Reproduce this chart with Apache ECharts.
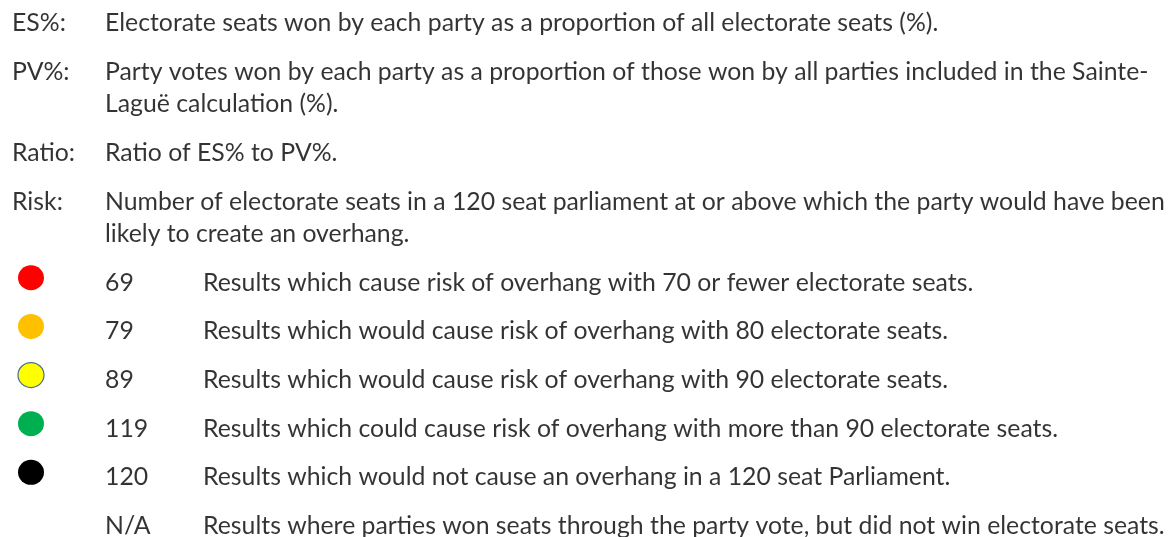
<!DOCTYPE html>
<html>
<head>
<meta charset="utf-8">
<script src="https://cdn.jsdelivr.net/npm/echarts@6/dist/echarts.min.js"></script>
<style>
  html, body { margin: 0; padding: 0; background: #fff; }
  #chart { width: 1168px; height: 537px; }
</style>
</head>
<body>
<div id="chart"></div>
<script>
// definitions (a '\n' marks where the original wraps)
const termNames = ['ES%:', 'PV%:', 'Ratio:', 'Risk:']
const termTexts = [
  'Electorate seats won by each party as a proportion of all electorate seats (%).',
  'Party votes won by each party as a proportion of those won by all parties included in the Sainte-\nLaguë calculation (%).',
  'Ratio of ES% to PV%.',
  'Number of electorate seats in a 120 seat parliament at or above which the party would have been\nlikely to create an overhang.'
]

// risk key
const riskValues = ['69', '79', '89', '119', '120', 'N/A']
const riskColors = ['#ff0000', '#ffc000', '#ffff00', '#00b050', '#000000', null]
const riskTexts = [
  'Results which cause risk of overhang with 70 or fewer electorate seats.',
  'Results which would cause risk of overhang with 80 electorate seats.',
  'Results which would cause risk of overhang with 90 electorate seats.',
  'Results which could cause risk of overhang with more than 90 electorate seats.',
  'Results which would not cause an overhang in a 120 seat Parliament.',
  'Results where parties won seats through the party vote, but did not win electorate seats.'
]

const PARA = 1        // one paragraph step
const WRAP = 0.67     // a wrapped line inside a paragraph

const FONT = 'Lato'
const SIZE = 24.8

// build text lines with their row position
const textLines = []
let pos = 0
termNames.forEach((name, i) => {
  termTexts[i].split('\n').forEach((line, j) => {
    if (j > 0) pos += WRAP
    textLines.push({ value: [0, pos], label: { formatter: '{t|' + (j === 0 ? name : '') + '}{d|' + line + '}' } })
  })
  pos += PARA
})
const dots = []
riskValues.forEach((v, i) => {
  textLines.push({ value: [0, pos], label: { formatter: '{t|}{v|' + v + '}{d|' + riskTexts[i] + '}' } })
  dots.push({
    value: [0, pos],
    symbolSize: riskColors[i] ? [26, 25] : 0,
    itemStyle: {
      opacity: 1,
      color: riskColors[i] || 'transparent',
      borderColor: riskColors[i] === '#ffff00' ? '#4a6f93' : 'transparent',
      borderWidth: riskColors[i] === '#ffff00' ? 1.2 : 0
    }
  })
  if (i < riskValues.length - 1) pos += PARA
})
const lastPos = pos

const chart = echarts.init(document.getElementById('chart'))
chart.setOption({
  backgroundColor: '#fff',
  animation: false,
  grid: { left: 12, right: 0, top: 23, bottom: 11 },
  xAxis: { type: 'value', min: 0, max: 1, show: false },
  yAxis: { type: 'value', min: 0, max: lastPos, inverse: true, show: false },
  series: [
    {
      type: 'scatter',
      symbolSize: 0,
      data: textLines,
      silent: true,
      label: {
        show: true,
        position: 'right',
        distance: 0,
        verticalAlign: 'middle',
        color: '#000',
        fontFamily: FONT,
        fontSize: SIZE,
        rich: {
          t: { width: 93, fontFamily: FONT, fontSize: SIZE, color: '#000' },
          v: { width: 98, fontFamily: FONT, fontSize: SIZE, color: '#000' },
          d: { fontFamily: FONT, fontSize: SIZE, color: '#000' }
        }
      }
    },
    {
      type: 'scatter',
      symbol: 'circle',
      symbolOffset: [19, -5],
      itemStyle: { opacity: 1 },
      data: dots,
      silent: true
    }
  ]
})
</script>
</body>
</html>
